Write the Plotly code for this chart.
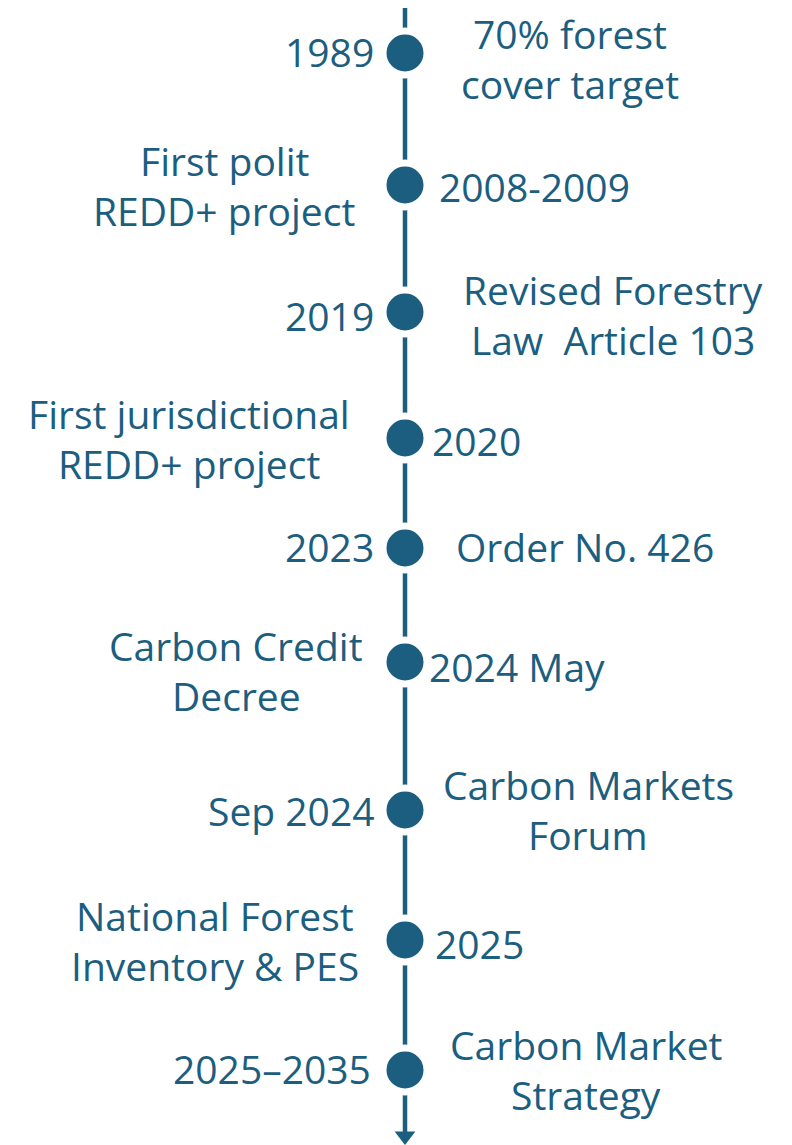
import plotly.graph_objects as go

# ---- data ----
dates = ["1989", "2008-2009", "2019", "2020", "2023", "2024 May", "Sep 2024", "2025", "2025–2035"]
events = [
    "70% forest<br>cover target",
    "First polit<br>REDD+ project",
    "Revised Forestry<br>Law  Article 103",
    "First jurisdictional<br>REDD+ project",
    "Order No. 426",
    "Carbon Credit<br>Decree",
    "Carbon Markets<br>Forum",
    "National Forest<br>Inventory & PES",
    "Carbon Market<br>Strategy",
]
# side of the date label: "L" = date on left, event on right
date_side = ["L", "R", "L", "R", "L", "R", "L", "R", "L"]
# position along the timeline (pixels from top)
timeline_pos = [53, 185, 312, 438, 548, 662, 810, 940, 1070]

# ---- layout (positions / styles) ----
W, H = 792, 1145
OFF = 8  # page body margin compensation
AX = 405
COLOR = "#1b5e80"
FONT = "Open Sans"
FS = 39
TSHIFT = -2
LINE_GAP = 50

event_x = [570, 224, 613, 189, 585, 236, 588, 215, 586]
event_dy = [7, 2, 4, 2, 0, 10, 1, 2, 1]
date_x = [376, 437, 376, 430, 376, 427, 376, 433, 373]
date_dy = [0, 3, 5, 4, 0, 6, 2, 5, 0]

fig = go.Figure()

# main axis line
fig.add_shape(type="line", x0=AX, x1=AX, y0=8, y1=1132,
              line=dict(color=COLOR, width=4.5), layer="below")

# arrow head
fig.add_trace(go.Scatter(x=[AX], y=[1136], mode="markers",
                         marker=dict(symbol="triangle-down", size=18, color=COLOR,
                                     line=dict(width=0)),
                         hoverinfo="skip", showlegend=False))

# event dots with white halo
fig.add_trace(go.Scatter(x=[AX] * len(timeline_pos), y=timeline_pos, mode="markers",
                         marker=dict(size=44, color=COLOR,
                                     line=dict(color="white", width=7)),
                         hoverinfo="skip", showlegend=False))

annotations = []
for i, (d, e, s, y) in enumerate(zip(dates, events, date_side, timeline_pos)):
    annotations.append(dict(x=date_x[i], y=y + date_dy[i] + TSHIFT, text=d,
                            xanchor="right" if s == "L" else "left", yanchor="middle",
                            showarrow=False, font=dict(family=FONT, size=FS, color=COLOR)))
    lines = e.split("<br>")
    n = len(lines)
    yc = y + event_dy[i] + TSHIFT
    for k, ln in enumerate(lines):
        annotations.append(dict(x=event_x[i], y=yc + (k - (n - 1) / 2) * LINE_GAP, text=ln,
                                xanchor="center", yanchor="middle", align="center",
                                showarrow=False,
                                font=dict(family=FONT, size=FS, color=COLOR)))

fig.update_layout(
    width=W, height=H,
    margin=dict(l=0, r=0, t=0, b=0),
    paper_bgcolor="white", plot_bgcolor="white",
    xaxis=dict(range=[OFF, W + OFF], visible=False, fixedrange=True),
    yaxis=dict(range=[H + OFF, OFF], visible=False, fixedrange=True),
    annotations=annotations,
    showlegend=False,
)

fig.write_html("out.html")
